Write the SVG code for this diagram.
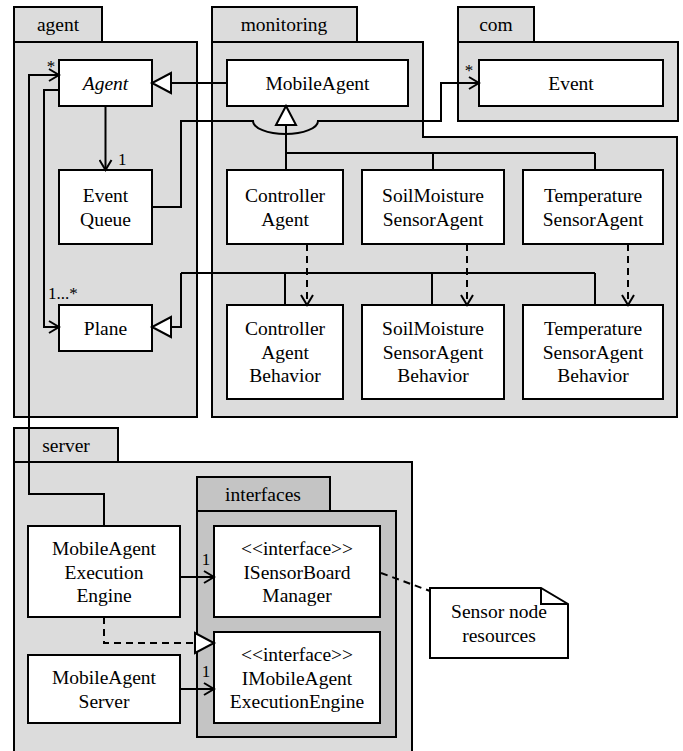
<svg xmlns="http://www.w3.org/2000/svg" width="683" height="751" viewBox="0 0 683 751">
<style>
.pkg{fill:#dcdcdc;stroke:#000;stroke-width:2}
.pkg2{fill:#c4c4c4;stroke:#000;stroke-width:2}
.box{fill:#fff;stroke:#000;stroke-width:2}
text{font-family:'Liberation Serif','DejaVu Serif',serif;font-size:19.5px;fill:#000}
.c{text-anchor:middle}
.m{font-size:17px}
.ln{fill:none;stroke:#000;stroke-width:2}
.dash{fill:none;stroke:#000;stroke-width:2;stroke-dasharray:7,5}
</style>
<defs>
<marker id="open" markerWidth="14" markerHeight="14" refX="12" refY="7" orient="auto" markerUnits="userSpaceOnUse">
<path d="M2,1 L12,7 L2,13" fill="none" stroke="#000" stroke-width="2" stroke-dasharray="none"/>
</marker>
<marker id="tri" markerWidth="24" markerHeight="24" refX="21" refY="12" orient="auto" markerUnits="userSpaceOnUse">
<path d="M2,2 L21,12 L2,22 Z" fill="#fff" stroke="#000" stroke-width="2" stroke-dasharray="none"/>
</marker>
</defs>

<g id="pkg-agent">
<rect class="pkg" x="14" y="7" width="88" height="35"/>
<rect class="pkg" x="14" y="42" width="183" height="375"/>
<text class="c" x="58" y="31">agent</text>
</g>
<g id="pkg-monitoring">
<rect class="pkg" x="212" y="7" width="145" height="35"/>
<path class="pkg" d="M212,42 L423,42 L423,137 L677,137 L677,417 L212,417 Z"/>
<text class="c" x="284" y="31">monitoring</text>
</g>
<g id="pkg-com">
<rect class="pkg" x="458" y="7" width="76" height="35"/>
<rect class="pkg" x="458" y="42" width="220" height="79"/>
<text class="c" x="496" y="31">com</text>
</g>
<g id="pkg-server">
<rect class="pkg" x="14" y="428" width="104" height="34"/>
<rect class="pkg" x="14" y="462" width="398" height="300"/>
<text class="c" x="66" y="452">server</text>
</g>
<g id="pkg-interfaces">
<rect class="pkg2" x="197" y="477" width="133" height="34"/>
<rect class="pkg2" x="197" y="511" width="199" height="226"/>
<text class="c" x="263" y="501">interfaces</text>
</g>

<g id="Agent">
<rect class="box" x="59" y="60" width="93" height="46"/>
<text class="c" x="105.5" y="90" font-style="italic">Agent</text>
</g>
<g id="MobileAgent">
<rect class="box" x="227" y="60" width="181" height="46"/>
<text class="c" x="317.5" y="90">MobileAgent</text>
</g>
<g id="Event">
<rect class="box" x="479" y="60" width="184" height="46"/>
<text class="c" x="571" y="90">Event</text>
</g>
<g id="EventQueue">
<rect class="box" x="59" y="170" width="93" height="74"/>
<text class="c" x="105.5" y="202">Event</text>
<text class="c" x="105.5" y="225.5">Queue</text>
</g>
<g id="ControllerAgent">
<rect class="box" x="227" y="170" width="116" height="74"/>
<text class="c" x="285" y="202">Controller</text>
<text class="c" x="285" y="225.5">Agent</text>
</g>
<g id="SoilMoistureSensorAgent">
<rect class="box" x="362" y="170" width="142" height="74"/>
<text class="c" x="433" y="202">SoilMoisture</text>
<text class="c" x="433" y="225.5">SensorAgent</text>
</g>
<g id="TemperatureSensorAgent">
<rect class="box" x="523" y="170" width="140" height="74"/>
<text class="c" x="593" y="202">Temperature</text>
<text class="c" x="593" y="225.5">SensorAgent</text>
</g>
<g id="Plane">
<rect class="box" x="59" y="305" width="93" height="46"/>
<text class="c" x="105.5" y="334.5">Plane</text>
</g>
<g id="ControllerAgentBehavior">
<rect class="box" x="227" y="305" width="116" height="94"/>
<text class="c" x="285" y="335">Controller</text>
<text class="c" x="285" y="358.5">Agent</text>
<text class="c" x="285" y="382">Behavior</text>
</g>
<g id="SoilMoistureSensorAgentBehavior">
<rect class="box" x="362" y="305" width="142" height="94"/>
<text class="c" x="433" y="335">SoilMoisture</text>
<text class="c" x="433" y="358.5">SensorAgent</text>
<text class="c" x="433" y="382">Behavior</text>
</g>
<g id="TemperatureSensorAgentBehavior">
<rect class="box" x="523" y="305" width="140" height="94"/>
<text class="c" x="593" y="335">Temperature</text>
<text class="c" x="593" y="358.5">SensorAgent</text>
<text class="c" x="593" y="382">Behavior</text>
</g>
<g id="MobileAgentExecutionEngine">
<rect class="box" x="28" y="526" width="152" height="91"/>
<text class="c" x="104" y="555">MobileAgent</text>
<text class="c" x="104" y="578.5">Execution</text>
<text class="c" x="104" y="602">Engine</text>
</g>
<g id="MobileAgentServer">
<rect class="box" x="28" y="655" width="152" height="68"/>
<text class="c" x="104" y="684">MobileAgent</text>
<text class="c" x="104" y="707.5">Server</text>
</g>
<g id="ISensorBoardManager">
<rect class="box" x="214" y="526" width="166" height="91"/>
<text class="c" x="297" y="555">&lt;&lt;interface&gt;&gt;</text>
<text class="c" x="297" y="578.5">ISensorBoard</text>
<text class="c" x="297" y="602">Manager</text>
</g>
<g id="IMobileAgentExecutionEngine">
<rect class="box" x="214" y="632" width="166" height="91"/>
<text class="c" x="297" y="661">&lt;&lt;interface&gt;&gt;</text>
<text class="c" x="297" y="684.5">IMobileAgent</text>
<text class="c" x="297" y="708">ExecutionEngine</text>
</g>
<g id="note">
<path class="box" d="M430,588 L541,588 L568,604 L568,658 L430,658 Z"/>
<path class="ln" d="M541,588 L541,604 L568,604"/>
<text class="c" x="499" y="618">Sensor node</text>
<text class="c" x="499" y="642">resources</text>
</g>

<g id="connectors">
<path class="ln" d="M227,83 L152,83" marker-end="url(#tri)"/>
<path class="ln" d="M105.5,106 L105.5,170" marker-end="url(#open)"/>
<text class="m" x="118" y="165">1</text>
<path class="ln" d="M152,207 L181,207 L181,121 L253,121 A32.5,13 0 0 0 318,121 L441,121 L441,83 L479,83" marker-end="url(#open)"/>
<text class="m c" x="469" y="76">*</text>
<path class="ln" d="M286,170 L286,106" marker-end="url(#tri)"/>
<path class="ln" d="M286,153 L595,153 M433,153 L433,170 M595,153 L595,170"/>
<path class="ln" d="M181,273 L181,327 L152,327" marker-end="url(#tri)"/>
<path class="ln" d="M181,273 L595,273 M285,273 L285,305 M432,273 L432,305 M595,273 L595,305"/>
<path class="dash" d="M307,244 L307,305" marker-end="url(#open)"/>
<path class="dash" d="M467,244 L467,305" marker-end="url(#open)"/>
<path class="dash" d="M628,244 L628,305" marker-end="url(#open)"/>
<path class="ln" d="M59,90 L44,90 L44,327 L59,327" marker-end="url(#open)"/>
<text class="m" x="48" y="299">1...*</text>
<path class="ln" d="M104,526 L104,494 L29,494 L29,75 L59,75" marker-end="url(#open)"/>
<text class="m c" x="51" y="72">*</text>
<path class="ln" d="M180,577 L214,577" marker-end="url(#open)"/>
<text class="m c" x="206" y="565">1</text>
<path class="ln" d="M180,689 L214,689" marker-end="url(#open)"/>
<text class="m c" x="206" y="677">1</text>
<path class="dash" d="M104,617 L104,643 L214,643" marker-end="url(#tri)"/>
<path class="dash" d="M381,573 L430,591"/>
</g>
</svg>
